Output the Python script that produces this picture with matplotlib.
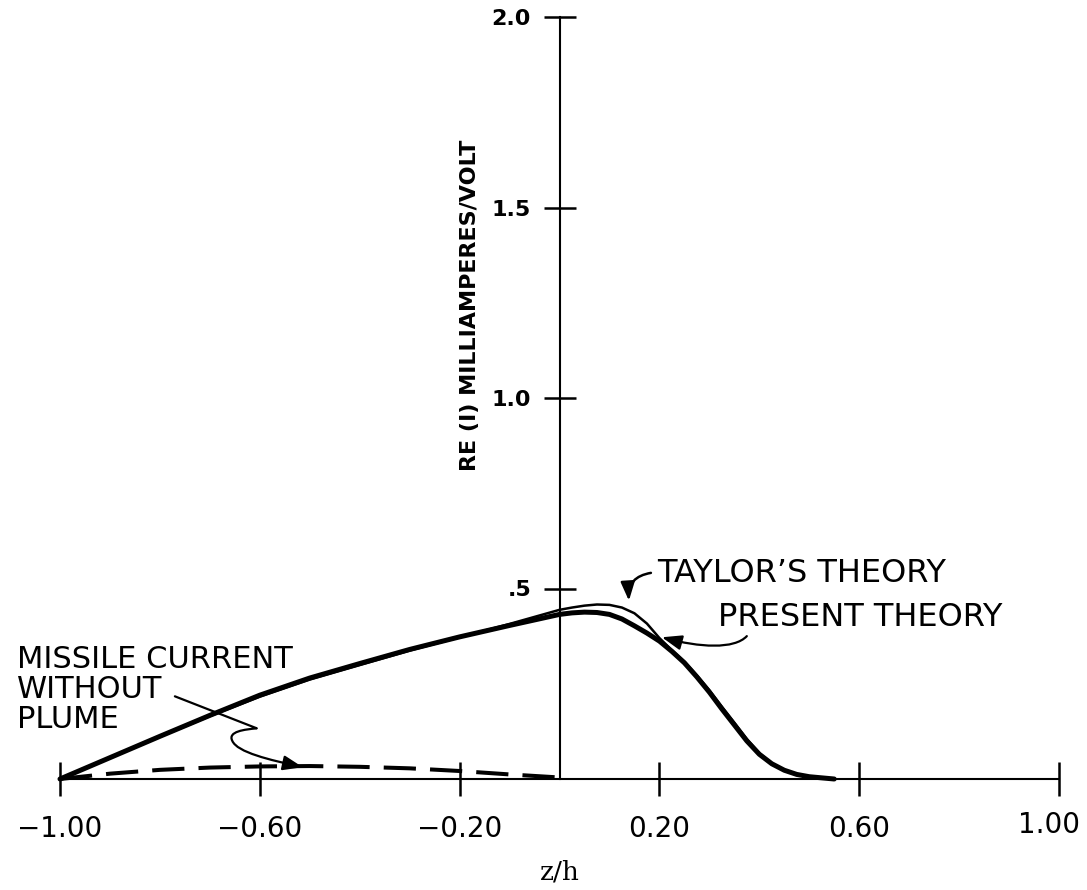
import matplotlib.pyplot as plt
import matplotlib.transforms as mtransforms
from matplotlib.patches import FancyArrowPatch
from matplotlib.path import Path

# values
z_curve = [-1.0, -0.9, -0.8, -0.7, -0.6, -0.5, -0.4, -0.3, -0.2, -0.1, 0.0,
           0.025, 0.05, 0.075, 0.1, 0.125, 0.15, 0.175, 0.2, 0.225, 0.25, 0.275,
           0.3, 0.325, 0.35, 0.375, 0.4, 0.425, 0.45, 0.475, 0.5, 0.55]
present = [0.0, 0.056, 0.112, 0.167, 0.220, 0.265, 0.303, 0.340, 0.373, 0.403, 0.432,
           0.436, 0.438, 0.437, 0.432, 0.420, 0.402, 0.383, 0.362, 0.335, 0.305, 0.268,
           0.228, 0.184, 0.142, 0.100, 0.065, 0.040, 0.023, 0.012, 0.006, 0.0]
taylor = [0.0, 0.056, 0.111, 0.165, 0.216, 0.261, 0.299, 0.337, 0.372, 0.407, 0.444,
          0.450, 0.455, 0.458, 0.457, 0.450, 0.435, 0.408, 0.370, 0.338, 0.308, 0.272,
          0.233, 0.190, 0.148, 0.105, 0.068, 0.041, 0.023, 0.012, 0.006, 0.0]

z_plume = [-1.0, -0.9, -0.8, -0.7, -0.6, -0.5, -0.4, -0.3, -0.2, -0.1, 0.0]
no_plume = [0.0, 0.014, 0.024, 0.030, 0.033, 0.034, 0.032, 0.028, 0.021, 0.012, 0.004]

x_ticks = [-1.0, -0.6, -0.2, 0.2, 0.6, 1.0]
x_labels = ["\u22121.00", "\u22120.60", "\u22120.20", "0.20", "0.60", "1.00"]
y_ticks = [0.5, 1.0, 1.5, 2.0]
y_labels = [".5", "1.0", "1.5", "2.0"]

fig = plt.figure(figsize=(10.87, 8.90), dpi=100)
ax = fig.add_axes([60 / 1087, 111 / 890, 999 / 1087, 762 / 890])
ax.set_xlim(-1, 1)
ax.set_ylim(0, 2)

# axes through the origin
for s in ["top", "right"]:
    ax.spines[s].set_visible(False)
ax.spines["left"].set_position(("data", 0))
ax.spines["bottom"].set_position(("data", 0))
ax.spines["left"].set_linewidth(1.5)
ax.spines["bottom"].set_linewidth(1.5)

ax.set_xticks(x_ticks)
ax.set_xticklabels(x_labels, fontsize=20)
ax.set_yticks(y_ticks)
ax.set_yticklabels(y_labels, fontsize=16, fontweight="bold")
ax.tick_params(axis="x", direction="inout", length=24, width=1.8, pad=14)
ax.tick_params(axis="y", direction="inout", length=23, width=1.8, pad=9)

# last x label sits a little left and higher in the original
last = ax.get_xticklabels()[-1]
last.set_transform(last.get_transform() +
                   mtransforms.ScaledTranslation(-10 / 100, 4 / 100, fig.dpi_scale_trans))

# curves
ax.plot(z_curve, present, color="black", lw=3.6, solid_capstyle="round", clip_on=False)
ax.plot(z_curve, taylor, color="black", lw=1.8, clip_on=False)
ax.plot(z_plume, no_plume, color="black", lw=2.9, dashes=(8, 3.5), clip_on=False)

# labels
ax.text(-0.18, 1.244, "RE (I) MILLIAMPERES/VOLT", rotation=90, fontsize=16,
        fontweight="bold", ha="center", va="center")
ax.text(0.0, -0.245, "z/h", fontsize=19, family="DejaVu Serif", ha="center", va="center")

ax.text(0.195, 0.54, "TAYLOR\u2019S THEORY", fontsize=23, ha="left", va="center")
ax.text(0.317, 0.425, "PRESENT THEORY", fontsize=23, ha="left", va="center")
ax.text(-1.086, 0.352, "MISSILE CURRENT\nWITHOUT\nPLUME", fontsize=22,
        ha="left", va="top", linespacing=1.05)

style = "-|>,head_length=0.8,head_width=0.3"

ax.add_patch(FancyArrowPatch((0.183, 0.541), (0.139, 0.468), arrowstyle=style,
                             connectionstyle="arc3,rad=0.45", mutation_scale=14,
                             lw=1.8, color="black", shrinkA=0, shrinkB=0))

p_present = Path([(0.375, 0.375), (0.35, 0.34), (0.28, 0.345), (0.205, 0.372)],
                 [Path.MOVETO, Path.CURVE4, Path.CURVE4, Path.CURVE4])
ax.add_patch(FancyArrowPatch(path=p_present, arrowstyle=style, mutation_scale=15,
                             lw=1.6, color="black"))

p_missile = Path([(-0.77, 0.217), (-0.606, 0.133),
                  (-0.63, 0.13), (-0.665, 0.125), (-0.655, 0.10),
                  (-0.645, 0.07), (-0.58, 0.05), (-0.514, 0.031)],
                 [Path.MOVETO, Path.LINETO,
                  Path.CURVE4, Path.CURVE4, Path.CURVE4,
                  Path.CURVE4, Path.CURVE4, Path.CURVE4])
ax.add_patch(FancyArrowPatch(path=p_missile, arrowstyle=style, mutation_scale=15,
                             lw=1.6, color="black"))

fig.savefig("out.png", dpi=100)
